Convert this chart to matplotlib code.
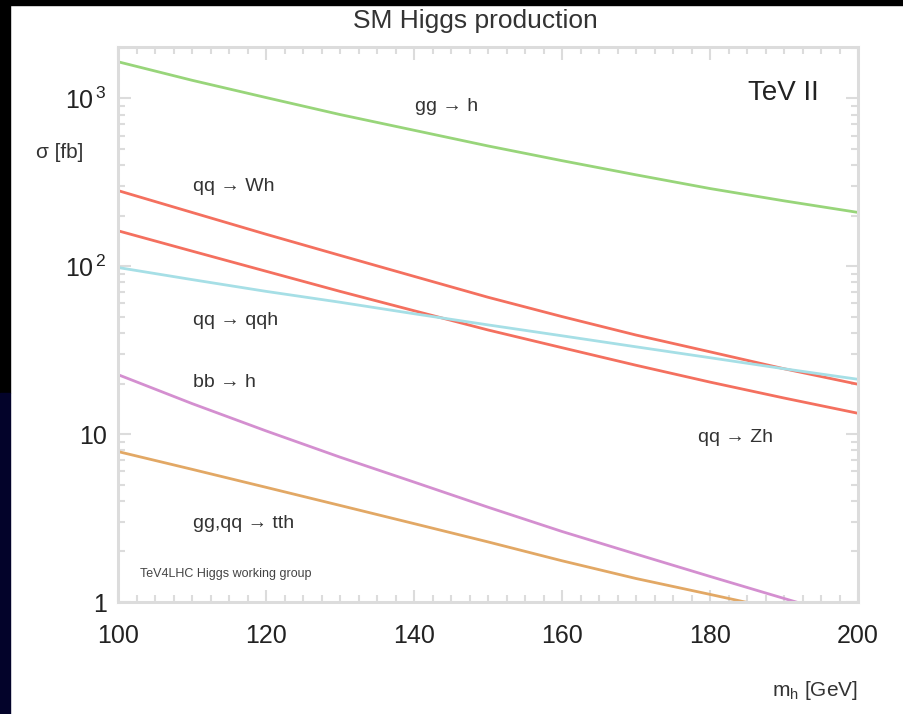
"""
SM Higgs production cross sections at the Tevatron (TeV4LHC Higgs working group)
"""
import matplotlib
matplotlib.use('Agg')
import matplotlib.pyplot as plt
from matplotlib.ticker import FixedLocator, MultipleLocator, NullFormatter
from matplotlib.patches import Rectangle

plt.rcParams['font.family'] = ['Liberation Sans', 'DejaVu Sans']
plt.rcParams['mathtext.default'] = 'regular'

# Higgs mass grid [GeV]
mh = [100, 110, 120, 130, 140, 150, 160, 170, 180, 190, 200]

# cross sections [fb]
sig_ggh = [1650, 1280, 1010, 800, 645, 520, 425, 350, 290, 245, 209]
sig_wh = [282, 209, 155, 116, 87, 65.3, 50.1, 38.9, 30.9, 24.5, 19.8]
sig_zh = [162.5, 123, 93.3, 70.8, 54.3, 41.7, 32.7, 25.7, 20.4, 16.4, 13.3]
sig_qqh = [98.2, 83.2, 70.8, 61.0, 52.1, 44.7, 38.5, 33.1, 28.5, 24.5, 21.2]
sig_bbh = [22.6, 15.2, 10.45, 7.29, 5.18, 3.67, 2.63, 1.93, 1.42, 1.05, 0.78]
sig_tth = [7.87, 6.17, 4.82, 3.76, 2.93, 2.28, 1.76, 1.38, 1.11, 0.89, 0.72]

col_ggh = '#98d57a'
col_red = '#f4705f'
col_qqh = '#a6dfe6'
col_bbh = '#d48fd0'
col_tth = '#e2a865'
frame = '#dcdcdc'

fig = plt.figure(figsize=(9.04, 7.14), dpi=100)
fig.patch.set_facecolor('white')
# black border of the slide
fig.patches.append(Rectangle((0, 1 - 5/714), 1, 5/714, transform=fig.transFigure, color='black', zorder=0))
fig.patches.append(Rectangle((0, 0.45), 10/904, 0.55, transform=fig.transFigure, color='black', zorder=0))
fig.patches.append(Rectangle((0, 0), 10/904, 0.45, transform=fig.transFigure, color='#03032a', zorder=0))

ax = fig.add_axes([118/904, 1 - 602/714, 740/904, 555/714])

lw = 2.0
ax.plot(mh, sig_ggh, color=col_ggh, lw=lw)
ax.plot(mh, sig_wh, color=col_red, lw=lw)
ax.plot(mh, sig_zh, color=col_red, lw=lw)
ax.plot(mh, sig_qqh, color=col_qqh, lw=lw)
ax.plot(mh, sig_bbh, color=col_bbh, lw=lw)
ax.plot(mh, sig_tth, color=col_tth, lw=lw)

ax.set_yscale('log')
ax.set_xlim(100, 200)
ax.set_ylim(1, 2020)

ax.xaxis.set_major_locator(MultipleLocator(20))
ax.xaxis.set_minor_locator(MultipleLocator(2.5))
ax.yaxis.set_major_locator(FixedLocator([1, 10, 100, 1000]))
ax.yaxis.set_minor_locator(FixedLocator([k * 10**d for d in range(0, 4) for k in range(2, 10)]))
ax.yaxis.set_minor_formatter(NullFormatter())
ax.set_yticklabels(['1', '10', r'10$^{\,2}$', r'10$^{\,3}$'])

for s in ax.spines.values():
    s.set_color(frame)
    s.set_linewidth(2.2)
ax.tick_params(which='both', direction='in', top=True, right=True, color=frame, width=1.5,
               labelsize=18, labelcolor='#222222')
ax.tick_params(which='major', length=9)
ax.tick_params(which='minor', length=5)
ax.tick_params(axis='x', pad=16)
ax.tick_params(axis='y', pad=8)

txt = dict(transform=ax.transAxes, color='#333333', va='center', ha='left', fontsize=14)
ax.text(0.401, 0.892, 'gg → h', **txt)
ax.text(0.101, 0.748, 'qq → Wh', **txt)
ax.text(0.101, 0.508, 'qq → qqh', **txt)
ax.text(0.101, 0.396, 'bb → h', **txt)
ax.text(0.101, 0.141, 'gg,qq → tth', **txt)
ax.text(0.784, 0.297, 'qq → Zh', **txt)
ax.text(0.851, 0.917, 'TeV II', transform=ax.transAxes, color='#222222', va='center', ha='left',
        fontsize=20)
ax.text(0.030, 0.0505, 'TeV4LHC Higgs working group', transform=ax.transAxes, color='#444444',
        va='center', ha='left', fontsize=9)

fig.text(475/904, 1 - 21/714, 'SM Higgs production', ha='center', va='center', fontsize=19, color='#333333')
fig.text(60/904, 1 - 152/714, 'σ [fb]', ha='center', va='center', fontsize=15, color='#333333')
fig.text(815/904, 1 - 690/714, 'm$_h$ [GeV]', ha='center', va='center', fontsize=15, color='#333333')

fig.savefig('out.png', dpi=100)
